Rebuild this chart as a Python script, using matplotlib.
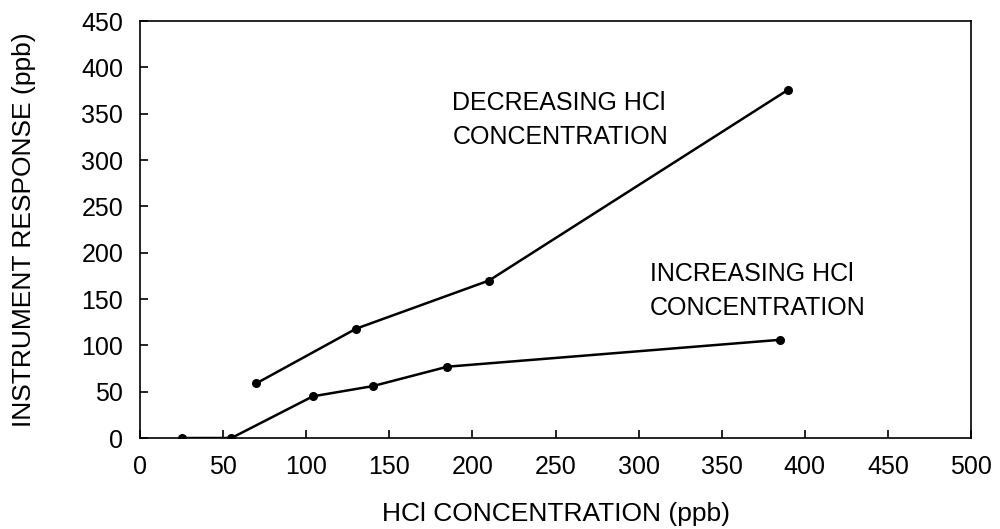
import matplotlib
matplotlib.use("Agg")
import matplotlib.pyplot as plt

plt.rcParams["font.family"] = ["Liberation Sans", "DejaVu Sans"]

# HCl step test: concentration (ppb) vs instrument response (ppb)
dec_x = [70, 130, 210, 390]
dec_y = [59, 118, 170, 376]
inc_x = [25, 55, 104, 140, 185, 385]
inc_y = [0, 0, 45, 56, 77, 106]

x_ticks = list(range(0, 501, 50))
y_ticks = list(range(0, 451, 50))

fig = plt.figure(figsize=(10, 5.29), dpi=100)
ax = fig.add_axes([0.14, 0.172, 0.831, 0.788])

ax.plot(dec_x, dec_y, color="black", linewidth=1.8, marker="o", markersize=5.5)
ax.plot(inc_x, inc_y, color="black", linewidth=1.8, marker="o", markersize=5.5)

ax.text(188, 375, "DECREASING HCl\nCONCENTRATION", fontsize=18, va="top",
        ha="left", linespacing=1.55)
ax.text(307, 190, "INCREASING HCl\nCONCENTRATION", fontsize=18, va="top",
        ha="left", linespacing=1.55)

ax.set_xlim(0, 500)
ax.set_ylim(0, 450)
ax.set_xticks(x_ticks)
ax.set_yticks(y_ticks)
ax.tick_params(direction="in", length=6, width=1.2, labelsize=18)
ax.tick_params(axis="y", pad=12)
ax.tick_params(axis="x", pad=12)
for s in ax.spines.values():
    s.set_linewidth(1.2)

ax.set_xlabel("HCl CONCENTRATION (ppb)", fontsize=19, labelpad=17)
ax.set_ylabel("INSTRUMENT RESPONSE (ppb)", fontsize=19, labelpad=33)

fig.savefig("out.png", dpi=100)
